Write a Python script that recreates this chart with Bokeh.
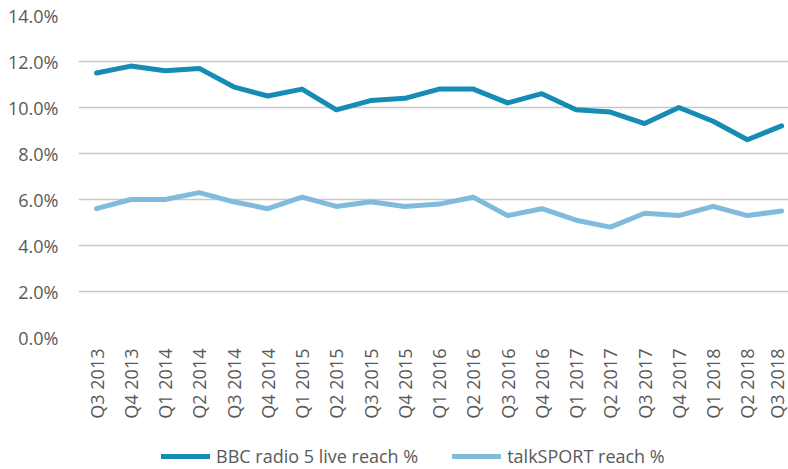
import math
from bokeh.plotting import figure
from bokeh.layouts import column
from bokeh.models import (Range1d, FixedTicker, PrintfTickFormatter, Legend,
                          LegendItem, ColumnDataSource)
from bokeh.embed import file_html
from bokeh.resources import INLINE

quarters = ["Q3 2013", "Q4 2013", "Q1 2014", "Q2 2014", "Q3 2014", "Q4 2014",
            "Q1 2015", "Q2 2015", "Q3 2015", "Q4 2015", "Q1 2016", "Q2 2016",
            "Q3 2016", "Q4 2016", "Q1 2017", "Q2 2017", "Q3 2017", "Q4 2017",
            "Q1 2018", "Q2 2018", "Q3 2018"]
bbc_5live = [11.5, 11.8, 11.6, 11.7, 10.9, 10.5, 10.8, 9.9, 10.3, 10.4, 10.8,
             10.8, 10.2, 10.6, 9.9, 9.8, 9.3, 10.0, 9.4, 8.6, 9.2]
talksport = [5.6, 6.0, 6.0, 6.3, 5.9, 5.6, 6.1, 5.7, 5.9, 5.7, 5.8, 6.1, 5.3,
             5.6, 5.1, 4.8, 5.4, 5.3, 5.7, 5.3, 5.5]
y_ticks = [0, 2, 4, 6, 8, 10, 12, 14]
series_names = ["BBC radio 5 live reach %", "talkSPORT reach %"]

FONT = "Open Sans"
TXT = "#595959"
C_BBC = "#168cb4"
C_TS = "#80bbdc"
FS = "18px"

idx = list(range(len(quarters)))
src = ColumnDataSource(dict(x=idx, bbc=bbc_5live, ts=talksport))

p = figure(width=788, height=437, output_backend="svg", toolbar_location=None,
           x_range=Range1d(-0.526, 20.2), y_range=Range1d(0, 14),
           min_border_left=78, min_border_right=0, min_border_top=15,
           min_border_bottom=100)
p.outline_line_color = None
p.background_fill_color = "white"
p.border_fill_color = "white"

p.line("x", "bbc", source=src, line_color=C_BBC, line_width=5,
       line_join="round", line_cap="round")
p.line("x", "ts", source=src, line_color=C_TS, line_width=5,
       line_join="round", line_cap="round")

# grids
p.xgrid.grid_line_color = None
p.ygrid.ticker = FixedTicker(ticks=y_ticks)
p.ygrid.grid_line_color = "#c8c8c8"
p.ygrid.grid_line_width = 1.3
p.ygrid.level = "underlay"

# y axis
p.yaxis.ticker = FixedTicker(ticks=y_ticks)
p.yaxis.formatter = PrintfTickFormatter(format="%.1f%%")
p.yaxis.axis_line_color = None
p.yaxis.major_tick_line_color = None
p.yaxis.minor_tick_line_color = None
p.yaxis.major_tick_out = 0
p.yaxis.major_tick_in = 0
p.yaxis.major_label_standoff = 20
p.yaxis.major_label_text_font = FONT
p.yaxis.major_label_text_font_size = FS
p.yaxis.major_label_text_color = TXT

# x axis
p.xaxis.ticker = FixedTicker(ticks=idx)
p.xaxis.major_label_overrides = {i: q for i, q in zip(idx, quarters)}
p.xaxis.axis_line_color = None
p.xaxis.major_tick_line_color = None
p.xaxis.minor_tick_line_color = None
p.xaxis.major_tick_out = 0
p.xaxis.major_tick_in = 0
p.xaxis.major_label_standoff = 11
p.xaxis.major_label_orientation = math.pi / 2
p.xaxis.major_label_text_font = FONT
p.xaxis.major_label_text_font_size = FS
p.xaxis.major_label_text_color = TXT

# legend strip below the chart (its own lines fall outside its visible range)
lg = figure(width=788, height=32, output_backend="svg", toolbar_location=None,
            x_range=Range1d(0, 20), y_range=Range1d(-2, -1),
            x_axis_location=None, y_axis_location=None,
            min_border_left=0, min_border_right=0, min_border_top=0,
            min_border_bottom=0)
lg.outline_line_color = None
lg.grid.visible = False
k1 = lg.line("x", "bbc", source=src, line_color=C_BBC, line_width=5,
             line_cap="round")
k2 = lg.line("x", "ts", source=src, line_color=C_TS, line_width=5,
             line_cap="round")
legend = Legend(items=[LegendItem(label=series_names[0], renderers=[k1]),
                       LegendItem(label=series_names[1], renderers=[k2])],
                orientation="horizontal", location=(83, 1),
                glyph_width=49, glyph_height=22, label_standoff=6, spacing=34,
                padding=0, margin=0, border_line_alpha=0,
                background_fill_alpha=0,
                label_text_font=FONT, label_text_font_size=FS,
                label_text_color=TXT)
lg.add_layout(legend, "center")

layout = column(p, lg, spacing=0)
open("out.html", "w").write(file_html(layout, INLINE))
